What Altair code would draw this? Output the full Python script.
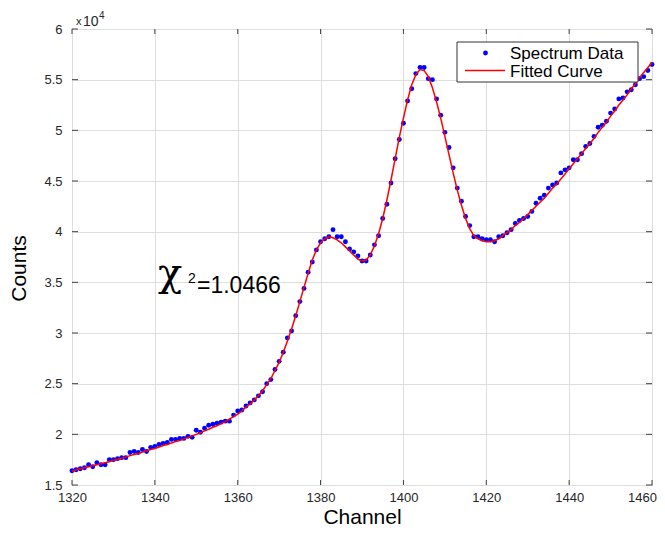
import altair as alt
import pandas as pd

# ---------------- data (counts in units of 1e4) ----------------
channels = list(range(1320, 1461))

spectrum = [
    # 1320-1360
    1.64, 1.65, 1.66, 1.67, 1.70, 1.68, 1.72, 1.70, 1.70, 1.75,
    1.75, 1.76, 1.77, 1.77, 1.82, 1.83, 1.82, 1.85, 1.83, 1.87,
    1.88, 1.90, 1.91, 1.92, 1.95, 1.95, 1.96, 1.96, 1.98, 1.97,
    2.04, 2.02, 2.06, 2.09, 2.10, 2.11, 2.12, 2.13, 2.13, 2.19,
    2.23,
    # 1361-1383
    2.24, 2.28, 2.31, 2.34, 2.38, 2.42, 2.50, 2.54, 2.64, 2.72,
    2.81, 2.95, 3.02, 3.17, 3.31, 3.44, 3.60, 3.70, 3.82, 3.90,
    3.93, 3.95, 4.02,
    # 1384-1416
    3.95, 3.95, 3.90, 3.83, 3.80, 3.76, 3.71, 3.71, 3.77, 3.87,
    3.96, 4.13, 4.27, 4.48, 4.72, 4.91, 5.07, 5.29, 5.41, 5.56,
    5.62, 5.62, 5.51, 5.50, 5.31, 5.15, 4.98, 4.83, 4.63, 4.43,
    4.30, 4.15, 4.06,
    # 1417-1439
    3.95, 3.95, 3.93, 3.92, 3.92, 3.90, 3.95, 3.96, 3.99, 4.02,
    4.08, 4.11, 4.13, 4.15, 4.20, 4.28, 4.33, 4.36, 4.43, 4.46,
    4.48, 4.58, 4.61,
    # 1440-1460
    4.63, 4.71, 4.71, 4.77, 4.84, 4.87, 4.94, 5.03, 5.05, 5.09,
    5.17, 5.21, 5.31, 5.32, 5.38, 5.40, 5.45, 5.51, 5.53, 5.59,
    5.65,
]

fitted = [
    # 1320-1360
    1.635, 1.65, 1.66, 1.67, 1.68, 1.69, 1.70, 1.71, 1.72, 1.73,
    1.745, 1.755, 1.765, 1.775, 1.79, 1.80, 1.81, 1.825, 1.835, 1.85,
    1.86, 1.875, 1.89, 1.90, 1.915, 1.93, 1.94, 1.955, 1.97, 1.985,
    2.00, 2.015, 2.035, 2.05, 2.07, 2.085, 2.105, 2.125, 2.15, 2.175,
    2.20,
    # 1361-1383
    2.23, 2.27, 2.30, 2.34, 2.38, 2.43, 2.49, 2.55, 2.63, 2.71,
    2.81, 2.92, 3.04, 3.17, 3.31, 3.45, 3.59, 3.72, 3.82, 3.89,
    3.93, 3.95, 3.94,
    # 1384-1416
    3.92, 3.89, 3.85, 3.81, 3.77, 3.73, 3.71, 3.72, 3.77, 3.86,
    3.98, 4.13, 4.31, 4.51, 4.72, 4.93, 5.12, 5.30, 5.45, 5.55,
    5.60, 5.59, 5.53, 5.42, 5.28, 5.12, 4.94, 4.76, 4.58, 4.41,
    4.26, 4.13, 4.03,
    # 1417-1439
    3.96, 3.93, 3.91, 3.90, 3.90, 3.91, 3.93, 3.96, 3.99, 4.02,
    4.06, 4.09, 4.13, 4.17, 4.21, 4.25, 4.29, 4.33, 4.38, 4.43,
    4.47, 4.52, 4.57,
    # 1440-1460
    4.62, 4.67, 4.72, 4.77, 4.82, 4.87, 4.92, 4.98, 5.03, 5.08,
    5.14, 5.19, 5.25, 5.30, 5.35, 5.41, 5.46, 5.52, 5.57, 5.62,
    5.67,
]

x_ticks = [1320, 1340, 1360, 1380, 1400, 1420, 1440, 1460]
y_ticks = [1.5, 2, 2.5, 3, 3.5, 4, 4.5, 5, 5.5, 6]

legend_labels = ["Spectrum Data", "Fitted Curve"]
chi_label = "=1.0466"

# ---------------- chart ----------------
W, H = 580, 456
FONT = "Liberation Sans"
DARK = "#262626"
FRAME = "#404040"

df = pd.DataFrame({"Channel": channels, "Spectrum": spectrum, "Fitted": fitted})

xs = alt.Scale(domain=[1320, 1460], nice=False, zero=False)
ys = alt.Scale(domain=[1.5, 6], nice=False, zero=False)

x_axis = alt.Axis(
    values=x_ticks, format="d", grid=True, gridColor="#dedede", gridWidth=1,
    ticks=False, tickSize=0, domain=False,
    labelFont=FONT, labelFontSize=13, labelColor=DARK, labelPadding=6,
    labelFlush=False, labelOverlap=False,
    labelOffset={"condition": {"test": "datum.value == 1460", "value": -10}, "value": 0},
    title="Channel", titleFont=FONT, titleFontSize=21, titleFontWeight="normal",
    titleColor="#000000", titleX=290, titleY=38, titleAlign="center",
    titleBaseline="alphabetic",
)
y_axis = alt.Axis(
    values=y_ticks, format="~g", grid=True, gridColor="#dedede", gridWidth=1,
    ticks=False, tickSize=0, domain=False,
    labelFont=FONT, labelFontSize=13, labelColor=DARK, labelPadding=10,
    labelOverlap=False,
    title="Counts", titleFont=FONT, titleFontSize=21, titleFontWeight="normal",
    titleColor="#000000", titleAngle=270, titleX=-53, titleY=239,
    titleAlign="center", titleBaseline="middle",
)

X = alt.X("Channel:Q", scale=xs, axis=x_axis, title="Channel")

points = alt.Chart(df).mark_circle(size=24, color="#0000ff", opacity=1).encode(
    x=X,
    y=alt.Y("Spectrum:Q", scale=ys, axis=y_axis, title="Counts"),
)
line = alt.Chart(df).mark_line(color="#ff0000", strokeWidth=1.5).encode(
    x=X,
    y=alt.Y("Fitted:Q", scale=ys, title="Counts"),
)

# inward tick marks on all four sides
xt = pd.DataFrame({"Channel": x_ticks})
yt = pd.DataFrame({"Spectrum": y_ticks})
XT = alt.X("Channel:Q", scale=xs, title="Channel")
YT = alt.Y("Spectrum:Q", scale=ys, title="Counts")
tick_bottom = alt.Chart(xt).mark_rule(color=FRAME, strokeWidth=1).encode(
    x=XT, y=alt.value(H), y2=alt.value(H - 5))
tick_top = alt.Chart(xt).mark_rule(color=FRAME, strokeWidth=1).encode(
    x=XT, y=alt.value(0), y2=alt.value(5))
tick_left = alt.Chart(yt).mark_rule(color=FRAME, strokeWidth=1).encode(
    y=YT, x=alt.value(0), x2=alt.value(6))
tick_right = alt.Chart(yt).mark_rule(color=FRAME, strokeWidth=1).encode(
    y=YT, x=alt.value(W), x2=alt.value(W - 6))

one = pd.DataFrame({"k": [0]})

# x10^4 exponent label
exp_x = alt.Chart(one).mark_text(text="x", font=FONT, fontSize=11, color=DARK,
                                  align="left", baseline="alphabetic").encode(
    x=alt.value(4), y=alt.value(-4))
exp_10 = alt.Chart(one).mark_text(text="10", font=FONT, fontSize=14, color=DARK,
                                   align="left", baseline="alphabetic").encode(
    x=alt.value(11), y=alt.value(-3))
exp_4 = alt.Chart(one).mark_text(text="4", font=FONT, fontSize=10, color=DARK,
                                  align="left", baseline="alphabetic").encode(
    x=alt.value(27), y=alt.value(-10))

# chi-square annotation
chi = alt.Chart(one).mark_text(text="χ", font="DejaVu Serif", fontSize=40, color="#000000",
                                align="left", baseline="alphabetic").encode(
    x=alt.value(86), y=alt.value(257))
chi_sup = alt.Chart(one).mark_text(text="2", font=FONT, fontSize=14, color="#000000",
                                    align="left", baseline="alphabetic").encode(
    x=alt.value(116), y=alt.value(254))
chi_val = alt.Chart(pd.DataFrame({"label": [chi_label]})).mark_text(
    font=FONT, fontSize=23, color="#000000", align="left", baseline="alphabetic").encode(
    x=alt.value(125), y=alt.value(264), text="label:N")

# legend box
leg_df = pd.DataFrame({"label": legend_labels})
leg_box = alt.Chart(one).mark_rect(fill="white", stroke="#333333", strokeWidth=1).encode(
    x=alt.value(385), x2=alt.value(566), y=alt.value(13), y2=alt.value(53))
leg_dot = alt.Chart(one).mark_circle(size=24, color="#0000ff", opacity=1).encode(
    x=alt.value(413.5), y=alt.value(24))
leg_line = alt.Chart(one).mark_rule(color="#ff0000", strokeWidth=1.5).encode(
    x=alt.value(393), x2=alt.value(433), y=alt.value(41.5))
leg_t1 = alt.Chart(leg_df).transform_filter(alt.datum.label == legend_labels[0]).mark_text(
    font=FONT, fontSize=17, color="#000000", align="left", baseline="alphabetic").encode(
    x=alt.value(438), y=alt.value(30), text="label:N")
leg_t2 = alt.Chart(leg_df).transform_filter(alt.datum.label == legend_labels[1]).mark_text(
    font=FONT, fontSize=17, color="#000000", align="left", baseline="alphabetic").encode(
    x=alt.value(438), y=alt.value(47.5), text="label:N")

chart = alt.layer(
    points, line,
    tick_bottom, tick_top, tick_left, tick_right,
    exp_x, exp_10, exp_4,
    chi, chi_sup, chi_val,
    leg_box, leg_dot, leg_line, leg_t1, leg_t2,
).properties(
    width=W, height=H,
    autosize=alt.AutoSizeParams(type="none"),
    padding={"left": 64, "top": 21, "right": 5, "bottom": 43},
    background="white",
).configure_view(stroke=FRAME, strokeWidth=1)

chart.save("out.html", embed_options={"renderer": "svg", "actions": False})
